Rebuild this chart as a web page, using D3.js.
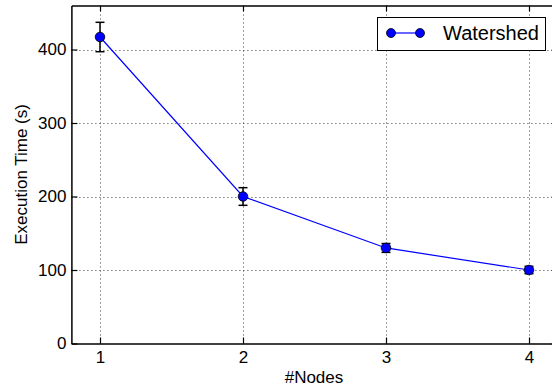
<!DOCTYPE html>
<html>
<head>
<meta charset="utf-8">
<script src="https://cdn.jsdelivr.net/npm/d3@7"></script>
<style>
  body { margin: 0; background: #fff; }
  svg { display: block; font-family: "Liberation Sans", Arial, sans-serif; }
</style>
</head>
<body>
<div id="root"></div>
<script>
// data
const nodes = [1, 2, 3, 4];
const execTime = [417, 200, 130, 100];
const execErr = [20, 12, 6, 5];
const xTicks = [1, 2, 3, 4];
const yTicks = [0, 100, 200, 300, 400];
const seriesName = 'Watershed';

const W = 552, H = 387;
const x = d3.scaleLinear().domain([0.8, 4.2]).range([71.4, 557.6]);
const y = d3.scaleLinear().domain([0, 460]).range([343.5, 5.4]);

const svg = d3.select('#root').append('svg').attr('width', W).attr('height', H);

const x0 = x.range()[0], x1 = x.range()[1], y0 = y.range()[0], y1 = y.range()[1];

// dotted grid
const grid = svg.append('g').attr('stroke', '#000').attr('stroke-width', 1)
  .attr('stroke-dasharray', '1,3').attr('opacity', 0.75);
grid.selectAll('.gx').data(xTicks).enter().append('line')
  .attr('x1', d => Math.round(x(d)) + 0.5).attr('x2', d => Math.round(x(d)) + 0.5)
  .attr('y1', y0).attr('y2', y1);
grid.selectAll('.gy').data(yTicks.filter(d => d > 0)).enter().append('line')
  .attr('y1', d => Math.round(y(d)) + 0.5).attr('y2', d => Math.round(y(d)) + 0.5)
  .attr('x1', x0).attr('x2', x1);

// axes with inward ticks
const fmt = d3.format('d');
const axBottom = svg.append('g').attr('transform', `translate(0,${y0})`)
  .call(d3.axisBottom(x).tickValues(xTicks).tickFormat(fmt).tickSizeInner(-6).tickSizeOuter(0).tickPadding(7));
const axTop = svg.append('g').attr('transform', `translate(0,${y1})`)
  .call(d3.axisTop(x).tickValues(xTicks).tickSizeInner(-6).tickSizeOuter(0).tickFormat(''));
const axLeft = svg.append('g').attr('transform', `translate(${x0},0)`)
  .call(d3.axisLeft(y).tickValues(yTicks).tickFormat(fmt).tickSizeInner(-6).tickSizeOuter(0).tickPadding(5));
const axRight = svg.append('g').attr('transform', `translate(${x1},0)`)
  .call(d3.axisRight(y).tickValues(yTicks).tickSizeInner(-6).tickSizeOuter(0).tickFormat(''));

[axBottom, axTop, axLeft, axRight].forEach(g => {
  g.select('.domain').attr('stroke', '#000').attr('stroke-width', 1.5);
  g.selectAll('.tick line').attr('stroke', '#000').attr('stroke-width', 1.2);
  g.selectAll('text').attr('font-size', 17).attr('fill', '#000')
    .attr('font-family', '"Liberation Sans", Arial, sans-serif');
});

// axis titles
svg.append('text').attr('x', 314).attr('y', 383).attr('text-anchor', 'middle')
  .attr('font-size', 17).text('#Nodes');
svg.append('text').attr('transform', `translate(27,${(y0 + y1) / 2}) rotate(-90)`)
  .attr('text-anchor', 'middle').attr('font-size', 17).text('Execution Time (s)');

const pts = nodes.map((n, i) => ({ n, v: execTime[i], e: execErr[i] }));

// line
svg.append('path').datum(pts)
  .attr('fill', 'none').attr('stroke', '#0000ff').attr('stroke-width', 1.2)
  .attr('d', d3.line().x(d => x(d.n)).y(d => y(d.v)));

// error bars
const eb = svg.append('g').attr('stroke', '#000').attr('stroke-width', 1.5);
eb.selectAll('.v').data(pts).enter().append('line')
  .attr('x1', d => x(d.n)).attr('x2', d => x(d.n))
  .attr('y1', d => y(d.v - d.e)).attr('y2', d => y(d.v + d.e));
eb.selectAll('.c1').data(pts).enter().append('line')
  .attr('x1', d => x(d.n) - 4.5).attr('x2', d => x(d.n) + 4.5)
  .attr('y1', d => y(d.v - d.e)).attr('y2', d => y(d.v - d.e));
eb.selectAll('.c2').data(pts).enter().append('line')
  .attr('x1', d => x(d.n) - 4.5).attr('x2', d => x(d.n) + 4.5)
  .attr('y1', d => y(d.v + d.e)).attr('y2', d => y(d.v + d.e));

// markers
svg.append('g').selectAll('circle').data(pts).enter().append('circle')
  .attr('cx', d => x(d.n)).attr('cy', d => y(d.v)).attr('r', 4.8)
  .attr('fill', '#0000ff').attr('stroke', '#000').attr('stroke-width', 0.8);

// legend
const lg = svg.append('g');
lg.append('rect').attr('x', 377.5).attr('y', 17.5).attr('width', 168).attr('height', 33)
  .attr('fill', '#fff').attr('stroke', '#000').attr('stroke-width', 1);
lg.append('line').attr('x1', 391).attr('x2', 420).attr('y1', 33).attr('y2', 33)
  .attr('stroke', '#0000ff').attr('stroke-width', 1.2);
lg.selectAll('circle').data([391, 420]).enter().append('circle')
  .attr('cx', d => d).attr('cy', 33).attr('r', 4.5)
  .attr('fill', '#0000ff').attr('stroke', '#000').attr('stroke-width', 0.8);
lg.append('text').attr('x', 443).attr('y', 40).attr('font-size', 20).text(seriesName);
</script>
</body>
</html>
